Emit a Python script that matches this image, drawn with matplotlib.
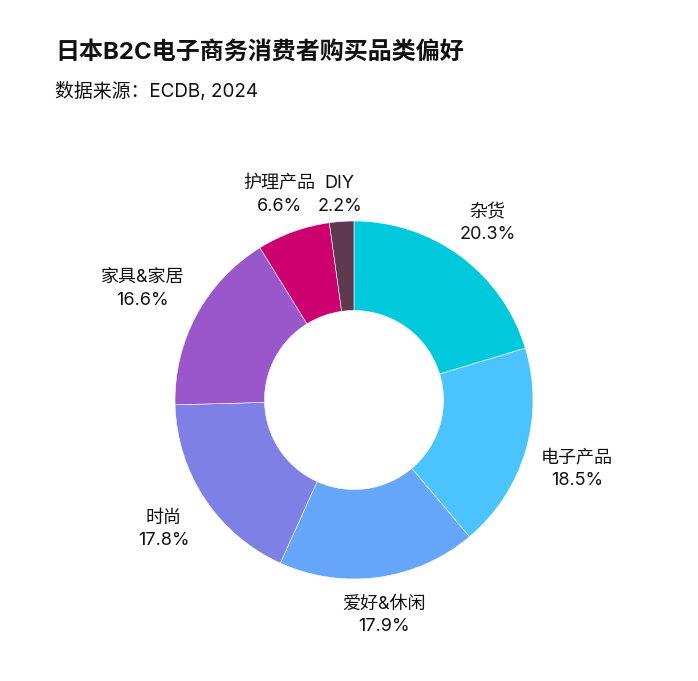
import numpy as np
import matplotlib
matplotlib.use('Agg')
import matplotlib.pyplot as plt

plt.rcParams['font.family'] = ['Inter', 'Noto Sans CJK SC', 'DejaVu Sans']

categories = ['杂货', '电子产品', '爱好&休闲', '时尚', '家具&家居', '护理产品', 'DIY']
shares = [20.3, 18.5, 17.9, 17.8, 16.6, 6.6, 2.2]
colors = ['#00C9DC', '#4BC3FF', '#66A6FA', '#7E80E5', '#9A57CC', '#CD0070', '#5E394F']
# label distance from centre, in units of the outer radius
label_r = [1.25, 1.30, 1.20, 1.275, 1.34, 1.235, 1.165]

W, H = 698, 681
fig = plt.figure(figsize=(W / 100, H / 100), dpi=100)

cx, cy, R = 354, 400, 179
ax = fig.add_axes([(cx - R) / W, (H - cy - R) / H, 2 * R / W, 2 * R / H])

wedges, _ = ax.pie(shares, colors=colors, startangle=90, counterclock=False,
                   radius=1, wedgeprops=dict(width=0.5, edgecolor='white', linewidth=0.4))
ax.set_aspect('auto')
ax.set_xlim(-1, 1)
ax.set_ylim(-1, 1)
ax.axis('off')

total = sum(shares)
start = 90.0
for name, val, r in zip(categories, shares, label_r):
    mid = start - val / total * 360 / 2
    start -= val / total * 360
    a = np.deg2rad(mid)
    ax.annotate(f'{name}\n{val:.1f}%', (r * np.cos(a), r * np.sin(a)), xytext=(0, -2.2),
                textcoords='offset points', ha='center', va='center',
                fontsize=13, linespacing=1.4, color='#111111', annotation_clip=False)

fig.text(55 / W, 1 - 52 / H, '日本B2C电子商务消费者购买品类偏好', fontsize=17.3, fontweight='bold',
         va='center', ha='left', color='#111111')
fig.text(55 / W, 1 - 92 / H, '数据来源：ECDB, 2024', fontsize=13.6, va='center', ha='left', color='#111111')

fig.savefig('out.png', dpi=100)
